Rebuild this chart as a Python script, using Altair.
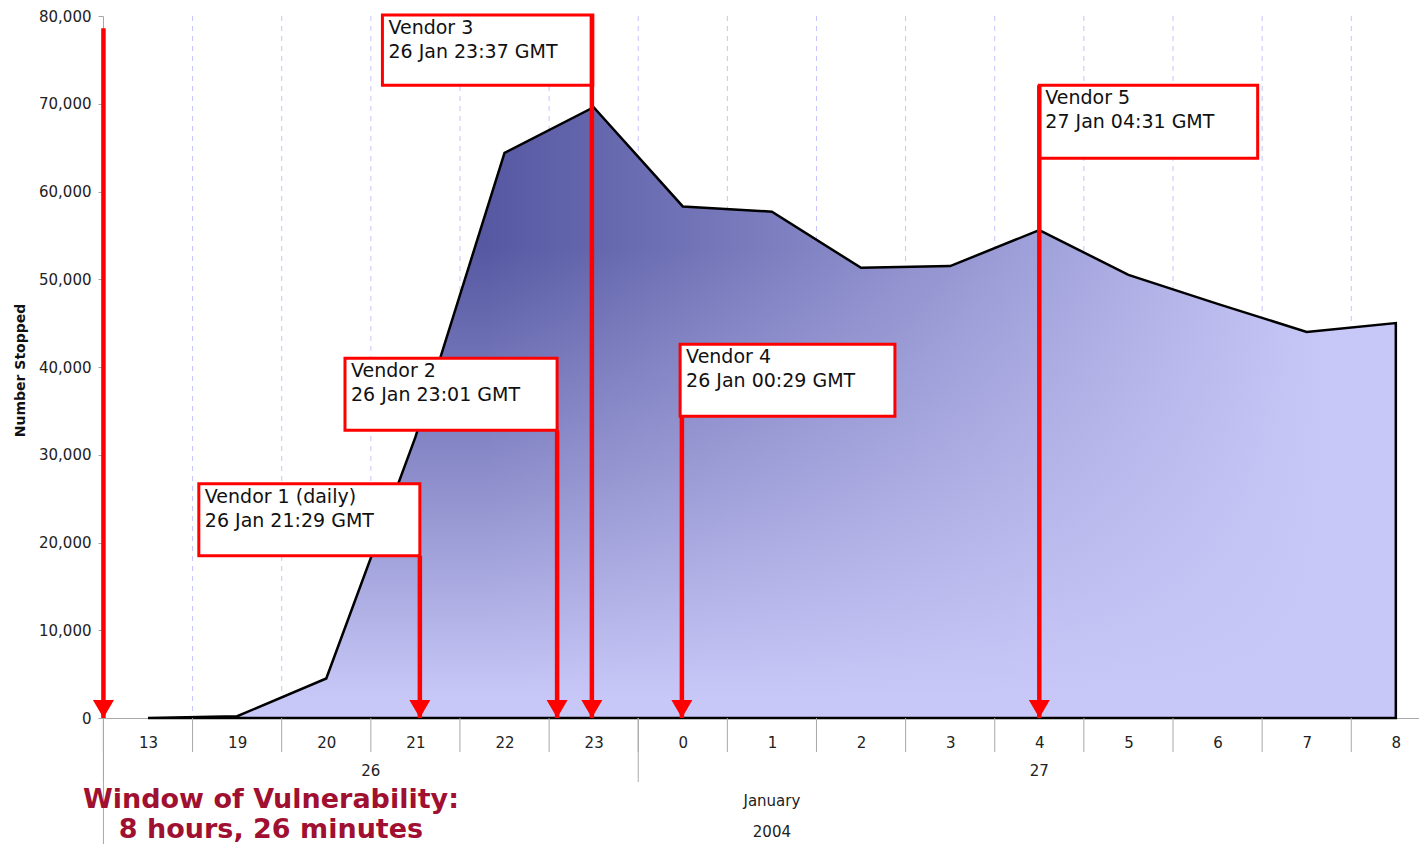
import altair as alt
import pandas as pd

# ---------------- data ----------------
hours = ["13", "19", "20", "21", "22", "23", "0", "1", "2", "3", "4", "5", "6", "7", "8"]
stopped = [0, 200, 4500, 32000, 64400, 69600, 58300, 57700, 51300, 51500, 55600, 50500, 47200, 44000, 45000]

day_labels = ["26", "27"]
day_start = [-0.5, 5.5]
day_end = [5.5, 14.5]

month_labels = ["January"]
year_labels = ["2004"]
month_start = [-0.5]
month_end = [14.5]

vendor_names = ["Vendor 1 (daily)", "Vendor 2", "Vendor 3", "Vendor 4", "Vendor 5"]
vendor_times = ["26 Jan 21:29 GMT", "26 Jan 23:01 GMT", "26 Jan 23:37 GMT",
                "26 Jan 00:29 GMT", "27 Jan 04:31 GMT"]
box_left = [0.57, 2.21, 2.63, 5.97, 10.0]
box_right = [3.05, 4.59, 4.99, 8.38, 12.45]
box_top = [26700, 41000, 80100, 42600, 72100]
box_bottom = [18500, 32800, 72100, 34400, 63800]

arrow_x = [3.05, 4.59, 4.98, 5.99, 10.0, -0.5]
arrow_top = [18500, 32800, 80100, 34400, 72100, 78600]

window_text = "Window of Vulnerability:\n8 hours, 26 minutes"

# ---------------- tables ----------------
idx = list(range(len(hours)))
main = pd.DataFrame({"idx": idx, "hour": hours, "stopped": stopped})
bounds = pd.DataFrame({"b": [i - 0.5 for i in idx]})
inner_bounds = bounds[bounds["b"] > 0]
days = pd.DataFrame({"label": day_labels, "start": day_start, "end": day_end})
months = pd.DataFrame({"month": month_labels, "year": year_labels,
                       "start": month_start, "end": month_end})
boxes = pd.DataFrame({"l": box_left, "r": box_right, "t": box_top, "b": box_bottom,
                      "text": [n + "\n" + t for n, t in zip(vendor_names, vendor_times)]})
arrows = pd.DataFrame({"x": arrow_x, "top": arrow_top, "zero": [0] * len(arrow_x)})

W, H = 1316, 702
xscale = alt.Scale(domain=[-0.505, 14.26], nice=False, zero=False)
yscale = alt.Scale(domain=[0, 80000], nice=False)

label_js = "[" + ",".join("'%s'" % h for h in hours) + "][datum.value]"

RED = "#ff0000"
GRAY = "#a8a8a8"

base = alt.Chart(main)

grid = alt.Chart(inner_bounds).mark_rule(color="#c4c4ff", strokeDash=[5, 5], strokeWidth=1).encode(
    x=alt.X("b:Q", scale=xscale), y=alt.value(0), y2=alt.value(H))

vert_grad = alt.Gradient(
    gradient="linear",
    stops=[alt.GradientStop(offset=0, color="#5658a2"),
           alt.GradientStop(offset=0.5, color="#8c8dca"),
           alt.GradientStop(offset=1, color="#c8c8f8")],
    x1=0.5, y1=0.23, x2=0.5, y2=0.97)

horiz_grad = alt.Gradient(
    gradient="linear",
    stops=[alt.GradientStop(offset=0, color="rgba(200,200,248,0)"),
           alt.GradientStop(offset=1, color="rgba(200,200,248,1)")],
    x1=0.27, y1=0.5, x2=0.95, y2=0.5)

area = base.mark_area(color=vert_grad).encode(
    x=alt.X("idx:Q", scale=xscale,
            axis=alt.Axis(values=idx, labelExpr=label_js, tickSize=0, labelPadding=17,
                          labelFontSize=15, labelColor="#222222", domainColor=GRAY,
                          grid=False, title=None)),
    y=alt.Y("stopped:Q", scale=yscale,
            axis=alt.Axis(values=list(range(0, 80001, 10000)), format=",.0f", labelFontSize=15,
                          labelColor="#222222", tickSize=5, tickColor=GRAY, domainColor=GRAY,
                          labelPadding=7, grid=False, title="Number Stopped",
                          titleFontSize=14, titleFontWeight="bold", titleColor="#111111",
                          titleAngle=270, titleX=-83, titleY=354, titleAlign="center",
                          titleBaseline="middle")),
)

overlay = base.mark_area(color=horiz_grad, stroke="#000000", strokeWidth=2.5,
                         strokeJoin="miter").encode(
    x=alt.X("idx:Q", scale=xscale), y=alt.Y("stopped:Q", scale=yscale))

ticks = alt.Chart(bounds).mark_rule(color=GRAY, strokeWidth=1).encode(
    x=alt.X("b:Q", scale=xscale), y=alt.value(H), y2=alt.value(H + 34))
day_ticks = alt.Chart(days).mark_rule(color=GRAY, strokeWidth=1).encode(
    x=alt.X("start:Q", scale=xscale), y=alt.value(H), y2=alt.value(H + 64))
month_ticks = alt.Chart(months).mark_rule(color=GRAY, strokeWidth=1).encode(
    x=alt.X("start:Q", scale=xscale), y=alt.value(H), y2=alt.value(H + 130))

day_text = alt.Chart(days).transform_calculate(mid="(datum.start + datum.end) / 2").mark_text(
    fontSize=15, color="#222222", baseline="middle").encode(
    x=alt.X("mid:Q", scale=xscale), y=alt.value(H + 53), text="label:N")
month_text = alt.Chart(months).transform_calculate(mid="(datum.start + datum.end) / 2").mark_text(
    fontSize=15, color="#222222", baseline="middle").encode(
    x=alt.X("mid:Q", scale=xscale), y=alt.value(H + 83), text="month:N")
year_text = alt.Chart(months).transform_calculate(mid="(datum.start + datum.end) / 2").mark_text(
    fontSize=15, color="#222222", baseline="middle").encode(
    x=alt.X("mid:Q", scale=xscale), y=alt.value(H + 114), text="year:N")

box_rects = alt.Chart(boxes).mark_rect(fill="white", stroke=RED, strokeWidth=3).encode(
    x=alt.X("l:Q", scale=xscale), x2="r:Q",
    y=alt.Y("t:Q", scale=yscale), y2="b:Q")
box_text = alt.Chart(boxes).mark_text(align="left", baseline="top", dx=6, dy=4, fontSize=19,
                                      lineHeight=24, lineBreak="\n", color="#111111").encode(
    x=alt.X("l:Q", scale=xscale), y=alt.Y("t:Q", scale=yscale), text="text:N")

arrow_lines = alt.Chart(arrows).mark_rule(color=RED, strokeWidth=4.5).encode(
    x=alt.X("x:Q", scale=xscale), y=alt.Y("top:Q", scale=yscale), y2="zero:Q")
arrow_heads = alt.Chart(arrows).mark_point(shape="triangle-down", filled=True, color=RED,
                                           size=441, opacity=1).encode(
    x=alt.X("x:Q", scale=xscale), y=alt.value(H - 9))

window = alt.Chart(pd.DataFrame({"t": [window_text]})).mark_text(
    fontSize=27, fontWeight="bold", color="#a01030", align="center", baseline="middle",
    lineBreak="\n", lineHeight=30).encode(
    x=alt.value(168), y=alt.value(H + 82), text="t:N")

chart = alt.layer(
    grid, area, overlay, ticks, day_ticks, month_ticks, day_text, month_text, year_text,
    box_rects, box_text, arrow_lines, arrow_heads, window
).properties(
    width=W, height=H,
    autosize=alt.AutoSizeParams(type="none"),
    padding={"left": 95, "top": 8, "right": 0, "bottom": 130},
).configure(font="DejaVu Sans").configure_view(stroke=None)

chart.save("out.html", embed_options={"renderer": "svg", "actions": False})
